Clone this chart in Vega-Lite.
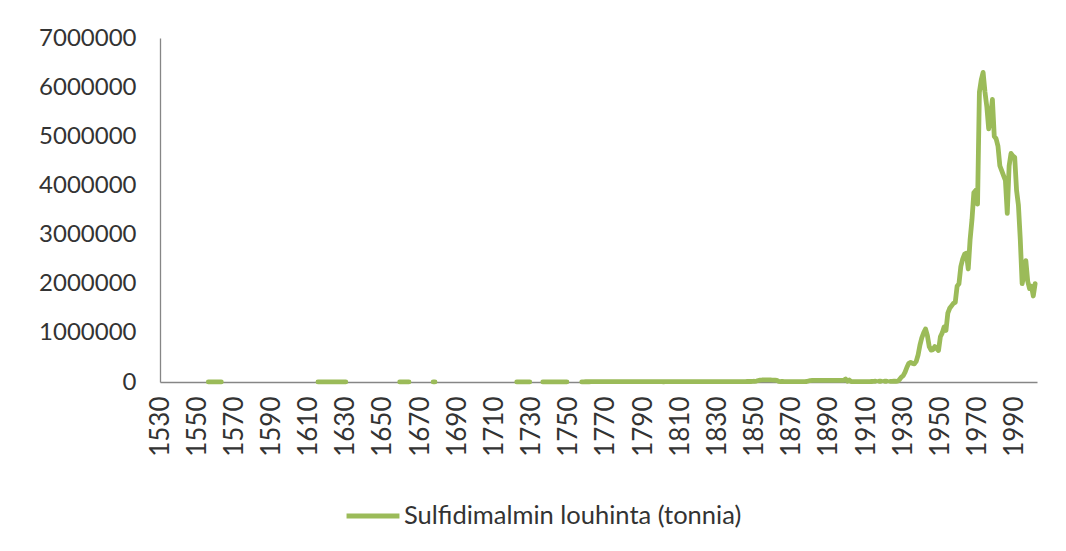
{
  "$schema": "https://vega.github.io/schema/vega-lite/v6.json",
  "width": 877,
  "height": 344,
  "autosize": "none",
  "padding": {"left": 160, "top": 38, "right": 29, "bottom": 169},
  "background": "#ffffff",
  "config": {
    "view": {"stroke": null},
    "font": "Lato",
    "axis": {"grid": false, "ticks": false, "domainColor": "#868686", "domainWidth": 1.3, "labelColor": "#333333", "labelFont": "Lato", "labelFontSize": 24, "title": null}
  },
  "data": {
    "values": [
      {"year": 1556, "t": 2000}, {"year": 1557, "t": 2000}, {"year": 1558, "t": 2000}, {"year": 1559, "t": 2000}, {"year": 1560, "t": 2000}, {"year": 1561, "t": 2000}, {"year": 1562, "t": 2000}, {"year": 1563, "t": 2000}, {"year": 1564, "t": null},
      {"year": 1615, "t": 2000}, {"year": 1616, "t": 2000}, {"year": 1617, "t": 3000}, {"year": 1618, "t": 3000}, {"year": 1619, "t": 3000}, {"year": 1620, "t": 3000}, {"year": 1621, "t": 3000}, {"year": 1622, "t": 3000}, {"year": 1623, "t": 3000}, {"year": 1624, "t": 3000}, {"year": 1625, "t": 3000}, {"year": 1626, "t": 3000}, {"year": 1627, "t": 3000}, {"year": 1628, "t": 3000}, {"year": 1629, "t": 2000}, {"year": 1630, "t": 2000}, {"year": 1631, "t": null},
      {"year": 1659, "t": 2000}, {"year": 1660, "t": 2000}, {"year": 1661, "t": 2000}, {"year": 1662, "t": 2000}, {"year": 1663, "t": 2000}, {"year": 1664, "t": 2000}, {"year": 1665, "t": null},
      {"year": 1677, "t": 1000}, {"year": 1678, "t": 1000}, {"year": 1679, "t": null},
      {"year": 1722, "t": 2000}, {"year": 1723, "t": 2000}, {"year": 1724, "t": 2000}, {"year": 1725, "t": 2000}, {"year": 1726, "t": 2000}, {"year": 1727, "t": 2000}, {"year": 1728, "t": 2000}, {"year": 1729, "t": 2000}, {"year": 1730, "t": null},
      {"year": 1736, "t": 2000}, {"year": 1737, "t": 2000}, {"year": 1738, "t": 2000}, {"year": 1739, "t": 2000}, {"year": 1740, "t": 2000}, {"year": 1741, "t": 2000}, {"year": 1742, "t": 2000}, {"year": 1743, "t": 2000}, {"year": 1744, "t": 2000}, {"year": 1745, "t": 2000}, {"year": 1746, "t": 2000}, {"year": 1747, "t": 2000}, {"year": 1748, "t": 2000}, {"year": 1749, "t": 2000}, {"year": 1750, "t": null},
      {"year": 1757, "t": 3000}, {"year": 1758, "t": 4000}, {"year": 1759, "t": 5000}, {"year": 1760, "t": 5000}, {"year": 1761, "t": 5000}, {"year": 1762, "t": 6000}, {"year": 1763, "t": 6000}, {"year": 1764, "t": 6000}, {"year": 1765, "t": 7000}, {"year": 1766, "t": 7000}, {"year": 1767, "t": 7000}, {"year": 1768, "t": 8000}, {"year": 1769, "t": 8000}, {"year": 1770, "t": 8000}, {"year": 1771, "t": 8000}, {"year": 1772, "t": 8000}, {"year": 1773, "t": 8000}, {"year": 1774, "t": 8000}, {"year": 1775, "t": 9000}, {"year": 1776, "t": 9000}, {"year": 1777, "t": 9000}, {"year": 1778, "t": 9000}, {"year": 1779, "t": 9000}, {"year": 1780, "t": 9000}, {"year": 1781, "t": 9000}, {"year": 1782, "t": 9000}, {"year": 1783, "t": 9000}, {"year": 1784, "t": 9000}, {"year": 1785, "t": 9000}, {"year": 1786, "t": 9000}, {"year": 1787, "t": 9000}, {"year": 1788, "t": 9000}, {"year": 1789, "t": 9000}, {"year": 1790, "t": 9000}, {"year": 1791, "t": 9000}, {"year": 1792, "t": 9000}, {"year": 1793, "t": 9000}, {"year": 1794, "t": 9000}, {"year": 1795, "t": 9000}, {"year": 1796, "t": 9000}, {"year": 1797, "t": 9000}, {"year": 1798, "t": 9000}, {"year": 1799, "t": 9000}, {"year": 1800, "t": 6000}, {"year": 1801, "t": 5000}, {"year": 1802, "t": 6000}, {"year": 1803, "t": 6000}, {"year": 1804, "t": 6000}, {"year": 1805, "t": 7000}, {"year": 1806, "t": 7000}, {"year": 1807, "t": 7000}, {"year": 1808, "t": 7000}, {"year": 1809, "t": 7000}, {"year": 1810, "t": 7000}, {"year": 1811, "t": 7000}, {"year": 1812, "t": 7000}, {"year": 1813, "t": 7000}, {"year": 1814, "t": 7000}, {"year": 1815, "t": 7000}, {"year": 1816, "t": 7000}, {"year": 1817, "t": 7000}, {"year": 1818, "t": 7000}, {"year": 1819, "t": 7000}, {"year": 1820, "t": 7000}, {"year": 1821, "t": 7000}, {"year": 1822, "t": 7000}, {"year": 1823, "t": 7000}, {"year": 1824, "t": 7000}, {"year": 1825, "t": 7000}, {"year": 1826, "t": 7000}, {"year": 1827, "t": 7000}, {"year": 1828, "t": 7000}, {"year": 1829, "t": 7000}, {"year": 1830, "t": 7000}, {"year": 1831, "t": 7000}, {"year": 1832, "t": 7000}, {"year": 1833, "t": 7000}, {"year": 1834, "t": 7000}, {"year": 1835, "t": 7000}, {"year": 1836, "t": 8000}, {"year": 1837, "t": 8000}, {"year": 1838, "t": 8000}, {"year": 1839, "t": 8000}, {"year": 1840, "t": 8000}, {"year": 1841, "t": 8000}, {"year": 1842, "t": 8000}, {"year": 1843, "t": 9000}, {"year": 1844, "t": 9000}, {"year": 1845, "t": 9000}, {"year": 1846, "t": 10000}, {"year": 1847, "t": 10000}, {"year": 1848, "t": 10000}, {"year": 1849, "t": 12000}, {"year": 1850, "t": 15000}, {"year": 1851, "t": 20000}, {"year": 1852, "t": 30000}, {"year": 1853, "t": 40000}, {"year": 1854, "t": 42000}, {"year": 1855, "t": 45000}, {"year": 1856, "t": 45000}, {"year": 1857, "t": 45000}, {"year": 1858, "t": 45000}, {"year": 1859, "t": 42000}, {"year": 1860, "t": 40000}, {"year": 1861, "t": 40000}, {"year": 1862, "t": 35000}, {"year": 1863, "t": 15000}, {"year": 1864, "t": 10000}, {"year": 1865, "t": 10000}, {"year": 1866, "t": 8000}, {"year": 1867, "t": 8000}, {"year": 1868, "t": 8000}, {"year": 1869, "t": 8000}, {"year": 1870, "t": 8000}, {"year": 1871, "t": 8000}, {"year": 1872, "t": 8000}, {"year": 1873, "t": 8000}, {"year": 1874, "t": 8000}, {"year": 1875, "t": 8000}, {"year": 1876, "t": 8000}, {"year": 1877, "t": 8000}, {"year": 1878, "t": 10000}, {"year": 1879, "t": 20000}, {"year": 1880, "t": 30000}, {"year": 1881, "t": 32000}, {"year": 1882, "t": 32000}, {"year": 1883, "t": 32000}, {"year": 1884, "t": 32000}, {"year": 1885, "t": 32000}, {"year": 1886, "t": 32000}, {"year": 1887, "t": 32000}, {"year": 1888, "t": 32000}, {"year": 1889, "t": 32000}, {"year": 1890, "t": 32000}, {"year": 1891, "t": 32000}, {"year": 1892, "t": 32000}, {"year": 1893, "t": 32000}, {"year": 1894, "t": 32000}, {"year": 1895, "t": 32000}, {"year": 1896, "t": 32000}, {"year": 1897, "t": 32000}, {"year": 1898, "t": 35000}, {"year": 1899, "t": 60000}, {"year": 1900, "t": 15000}, {"year": 1901, "t": 40000}, {"year": 1902, "t": 10000}, {"year": 1903, "t": 8000}, {"year": 1904, "t": 8000}, {"year": 1905, "t": 8000}, {"year": 1906, "t": 8000}, {"year": 1907, "t": 8000}, {"year": 1908, "t": 8000}, {"year": 1909, "t": 8000}, {"year": 1910, "t": 8000}, {"year": 1911, "t": 8000}, {"year": 1912, "t": 8000}, {"year": 1913, "t": 10000}, {"year": 1914, "t": 12000}, {"year": 1915, "t": 15000}, {"year": 1916, "t": null}, {"year": 1917, "t": 15000}, {"year": 1918, "t": 15000}, {"year": 1919, "t": null}, {"year": 1920, "t": 15000}, {"year": 1921, "t": 15000}, {"year": 1922, "t": null}, {"year": 1923, "t": 12000}, {"year": 1924, "t": 12000}, {"year": 1925, "t": 15000}, {"year": 1926, "t": 15000}, {"year": 1927, "t": 20000},
      {"year": 1928, "t": 50000}, {"year": 1929, "t": 100000}, {"year": 1930, "t": 130000}, {"year": 1931, "t": 200000}, {"year": 1932, "t": 300000}, {"year": 1933, "t": 380000}, {"year": 1934, "t": 400000}, {"year": 1935, "t": 380000}, {"year": 1936, "t": 370000}, {"year": 1937, "t": 420000}, {"year": 1938, "t": 550000}, {"year": 1939, "t": 750000}, {"year": 1940, "t": 900000}, {"year": 1941, "t": 1000000}, {"year": 1942, "t": 1080000}, {"year": 1943, "t": 950000}, {"year": 1944, "t": 720000}, {"year": 1945, "t": 650000}, {"year": 1946, "t": 660000}, {"year": 1947, "t": 720000}, {"year": 1948, "t": 680000}, {"year": 1949, "t": 640000}, {"year": 1950, "t": 920000}, {"year": 1951, "t": 1000000}, {"year": 1952, "t": 1120000}, {"year": 1953, "t": 1050000}, {"year": 1954, "t": 1400000}, {"year": 1955, "t": 1500000}, {"year": 1956, "t": 1550000}, {"year": 1957, "t": 1600000}, {"year": 1958, "t": 1620000}, {"year": 1959, "t": 1950000}, {"year": 1960, "t": 2000000}, {"year": 1961, "t": 2350000}, {"year": 1962, "t": 2500000}, {"year": 1963, "t": 2600000}, {"year": 1964, "t": 2620000}, {"year": 1965, "t": 2300000}, {"year": 1966, "t": 2900000}, {"year": 1967, "t": 3300000}, {"year": 1968, "t": 3850000}, {"year": 1969, "t": 3900000}, {"year": 1970, "t": 3620000}, {"year": 1971, "t": 5900000}, {"year": 1972, "t": 6150000}, {"year": 1973, "t": 6300000}, {"year": 1974, "t": 5900000}, {"year": 1975, "t": 5600000}, {"year": 1976, "t": 5150000}, {"year": 1977, "t": 5400000}, {"year": 1978, "t": 5750000}, {"year": 1979, "t": 5000000}, {"year": 1980, "t": 4950000}, {"year": 1981, "t": 4800000}, {"year": 1982, "t": 4400000}, {"year": 1983, "t": 4300000}, {"year": 1984, "t": 4200000}, {"year": 1985, "t": 4100000}, {"year": 1986, "t": 3430000}, {"year": 1987, "t": 4400000}, {"year": 1988, "t": 4650000}, {"year": 1989, "t": 4600000}, {"year": 1990, "t": 4570000}, {"year": 1991, "t": 3900000}, {"year": 1992, "t": 3600000}, {"year": 1993, "t": 2900000}, {"year": 1994, "t": 2000000}, {"year": 1995, "t": 2200000}, {"year": 1996, "t": 2470000}, {"year": 1997, "t": 2050000}, {"year": 1998, "t": 1900000}, {"year": 1999, "t": 1950000}, {"year": 2000, "t": 1750000}, {"year": 2001, "t": 2000000}
    ]
  },
  "transform": [{"calculate": "'Sulfidimalmin louhinta (tonnia)'", "as": "series"}],
  "mark": {"type": "line", "strokeWidth": 4.8, "strokeCap": "round", "strokeJoin": "round", "invalid": "break-paths-filter-domains"},
  "encoding": {
    "x": {
      "field": "year", "type": "quantitative",
      "scale": {"domain": [1530, 2002], "nice": false, "zero": false},
      "axis": {"values": [1530,1550,1570,1590,1610,1630,1650,1670,1690,1710,1730,1750,1770,1790,1810,1830,1850,1870,1890,1910,1930,1950,1970,1990], "format": "d", "labelAngle": 270, "labelPadding": 14, "labelFontSize": 26}
    },
    "y": {
      "field": "t", "type": "quantitative",
      "scale": {"domain": [0, 7000000], "nice": false},
      "axis": {"values": [0,1000000,2000000,3000000,4000000,5000000,6000000,7000000], "format": "d", "labelPadding": 24}
    },
    "color": {
      "field": "series", "type": "nominal",
      "scale": {"range": ["#9BBB59"]},
      "legend": {"title": null, "orient": "none", "legendX": 184, "legendY": 449, "symbolType": "stroke", "symbolSize": 2800, "symbolStrokeWidth": 4.8, "labelFontSize": 25.5, "labelColor": "#333333", "labelFont": "Lato", "labelOffset": 2, "labelLimit": 0}
    }
  }
}
